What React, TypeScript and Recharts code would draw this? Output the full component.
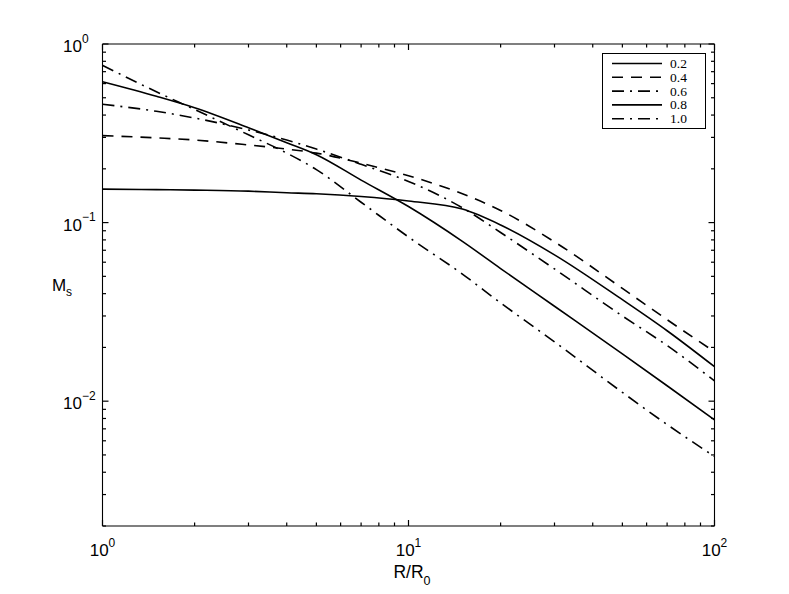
import React from 'react';
import { LineChart, Line, XAxis, YAxis } from 'recharts';

// ---- data (log-log) ----
const R_VALUES = [1, 1.5, 2, 3, 4, 5, 7, 10, 15, 20, 30, 50, 70, 100];
const MS_02 = [0.154, 0.153, 0.152, 0.150, 0.147, 0.145, 0.140, 0.132, 0.119, 0.097, 0.066, 0.037, 0.0248, 0.0156];
const MS_04 = [0.307, 0.298, 0.290, 0.272, 0.258, 0.245, 0.215, 0.183, 0.145, 0.117, 0.078, 0.0428, 0.0286, 0.0189];
const MS_06 = [0.46, 0.42, 0.385, 0.330, 0.290, 0.258, 0.212, 0.170, 0.121, 0.088, 0.055, 0.030, 0.0205, 0.013];
const MS_08 = [0.615, 0.51, 0.44, 0.34, 0.28, 0.24, 0.173, 0.123, 0.0785, 0.0553, 0.034, 0.0184, 0.0122, 0.00785];
const MS_10 = [0.76, 0.54, 0.43, 0.31, 0.245, 0.198, 0.13, 0.083, 0.0515, 0.0355, 0.0215, 0.0112, 0.0074, 0.0049];

const SERIES_KEYS = ['s02', 's04', 's06', 's08', 's10'];
const SERIES_LABELS = ['0.2', '0.4', '0.6', '0.8', '1.0'];
const SERIES_VALUES = [MS_02, MS_04, MS_06, MS_08, MS_10];

const X_TICKS = [1, 2, 3, 4, 5, 6, 7, 8, 9, 10, 20, 30, 40, 50, 60, 70, 80, 90, 100];
const X_MAJOR = [1, 10, 100];
const Y_TICKS = [0.002, 0.003, 0.004, 0.005, 0.006, 0.007, 0.008, 0.009, 0.01,
  0.02, 0.03, 0.04, 0.05, 0.06, 0.07, 0.08, 0.09, 0.1,
  0.2, 0.3, 0.4, 0.5, 0.6, 0.7, 0.8, 0.9, 1];
const Y_MAJOR = [0.01, 0.1, 1];
const X_LABEL = 'R/R';
const X_LABEL_SUB = '0';
const Y_LABEL = 'M';
const Y_LABEL_SUB = 's';

const data = R_VALUES.map((r, i) => {
  const row: any = { r };
  SERIES_KEYS.forEach((k, j) => { row[k] = SERIES_VALUES[j][i]; });
  return row;
});

// ---- styles / layout (page coordinates) ----
const W = 789;
const H = 594;
const SANS = '"Liberation Sans", Arial, Helvetica, sans-serif';
const SERIF = '"Liberation Serif", "Times New Roman", serif';
const DASHES = [undefined, '11 8', '12 6 2 6', undefined, '12 6 2 6'];
const LW = 1.6;
const MAJOR_LEN = 6;
const MINOR_LEN = 3.5;
const TICK_W = 1.2;
const TICK_COLOR = '#000';

function expText(v: number) {
  const e = Math.round(Math.log10(v));
  return e < 0 ? '\u2212' + String(-e) : String(e);
}

function renderXTick(side: string) {
  return (props: any) => {
    const x = Number(props.x);
    const y = Number(props.y);
    const v = props.payload ? props.payload.value : 0;
    const major = X_MAJOR.includes(v);
    const len = major ? MAJOR_LEN : MINOR_LEN;
    const y2 = side === 'top' ? y + len : y - len;
    return (
      <g>
        <line x1={x} y1={y} x2={x} y2={y2} stroke={TICK_COLOR} strokeWidth={TICK_W} />
        {major && side === 'bottom' && (
          <text x={x} y={y + 30} textAnchor="middle" fontFamily={SANS} fontSize={17} fill="#000" stroke="none">
            10<tspan dy={-9} fontSize={12}>{expText(v)}</tspan>
          </text>
        )}
      </g>
    );
  };
}

function renderYTick(side: string) {
  return (props: any) => {
    const x = Number(props.x);
    const y = Number(props.y);
    const v = props.payload ? props.payload.value : 0;
    const major = Y_MAJOR.includes(v);
    const len = major ? MAJOR_LEN : MINOR_LEN;
    const x2 = side === 'right' ? x - len : x + len;
    return (
      <g>
        <line x1={x} y1={y} x2={x2} y2={y} stroke={TICK_COLOR} strokeWidth={TICK_W} />
        {major && side === 'left' && (
          <text x={x - 39.5} y={y + 8} textAnchor="start" fontFamily={SANS} fontSize={17} fill="#000" stroke="none">
            10<tspan dy={-9.5} fontSize={12}>{expText(v)}</tspan>
          </text>
        )}
      </g>
    );
  };
}

function Legend() {
  return (
    <div
      style={{
        position: 'absolute', left: 602, top: 53, width: 104, height: 76,
        border: '1px solid #000', background: '#fff', boxSizing: 'border-box',
      }}
    >
      <svg width={102} height={74} style={{ display: 'block' }}>
        {SERIES_LABELS.map((lab, i) => {
          const yy = 9.5 + i * 13.8;
          return (
            <g key={lab}>
              <line x1={9} x2={59} y1={yy} y2={yy} stroke="#000" strokeWidth={LW} strokeDasharray={DASHES[i]} />
              <text x={67} y={yy + 4.5} fontFamily={SERIF} fontSize={13.5} fill="#000">{lab}</text>
            </g>
          );
        })}
      </svg>
    </div>
  );
}

export default function App() {
  return (
    <div style={{ position: 'absolute', left: 0, top: 0, width: W, height: H, background: '#fff' }}>
      <LineChart width={W} height={H} data={data} margin={{ top: 43, right: 73.5, bottom: 0, left: 0 }}>
        <XAxis
          xAxisId="b" dataKey="r" type="number" scale="log" domain={[1, 100]} allowDataOverflow
          ticks={X_TICKS} interval={0} tickSize={0} tickMargin={0} height={68} minTickGap={0}
          axisLine={{ stroke: '#000', strokeWidth: 1.1 }} tickLine={false}
          tick={renderXTick('bottom')}
          label={{
            content: () => (
              <text x={412} y={578} textAnchor="middle" fontFamily={SANS} fontSize={17.5} fill="#000">
                {X_LABEL}<tspan dy={7} fontSize={12.5}>{X_LABEL_SUB}</tspan>
              </text>
            ),
          }}
        />
        <XAxis
          xAxisId="t" orientation="top" dataKey="r" type="number" scale="log" domain={[1, 100]} allowDataOverflow
          ticks={X_TICKS} interval={0} tickSize={0} tickMargin={0} height={1} minTickGap={0}
          axisLine={{ stroke: '#000', strokeWidth: 1.1 }} tickLine={false}
          tick={renderXTick('top')}
        />
        <YAxis
          yAxisId="l" type="number" scale="log" domain={[0.002, 1]} allowDataOverflow
          ticks={Y_TICKS} interval={0} tickSize={0} tickMargin={0} width={102.5} minTickGap={0}
          axisLine={{ stroke: '#000', strokeWidth: 1.1 }} tickLine={false}
          tick={renderYTick('left')}
          label={{
            content: () => (
              <text x={62} y={291} textAnchor="middle" fontFamily={SANS} fontSize={17} fill="#000">
                {Y_LABEL}<tspan dy={5} fontSize={12}>{Y_LABEL_SUB}</tspan>
              </text>
            ),
          }}
        />
        <YAxis
          yAxisId="r" orientation="right" type="number" scale="log" domain={[0.002, 1]} allowDataOverflow
          ticks={Y_TICKS} interval={0} tickSize={0} tickMargin={0} width={1} minTickGap={0}
          axisLine={{ stroke: '#000', strokeWidth: 1.1 }} tickLine={false}
          tick={renderYTick('right')}
        />
        {SERIES_KEYS.map((k, i) => (
          <Line
            key={k} xAxisId="b" yAxisId="l" dataKey={k} type="monotone" stroke="#000"
            strokeWidth={LW} strokeDasharray={DASHES[i]} dot={false} activeDot={false}
            isAnimationActive={false}
          />
        ))}
      </LineChart>
      <Legend />
    </div>
  );
}
